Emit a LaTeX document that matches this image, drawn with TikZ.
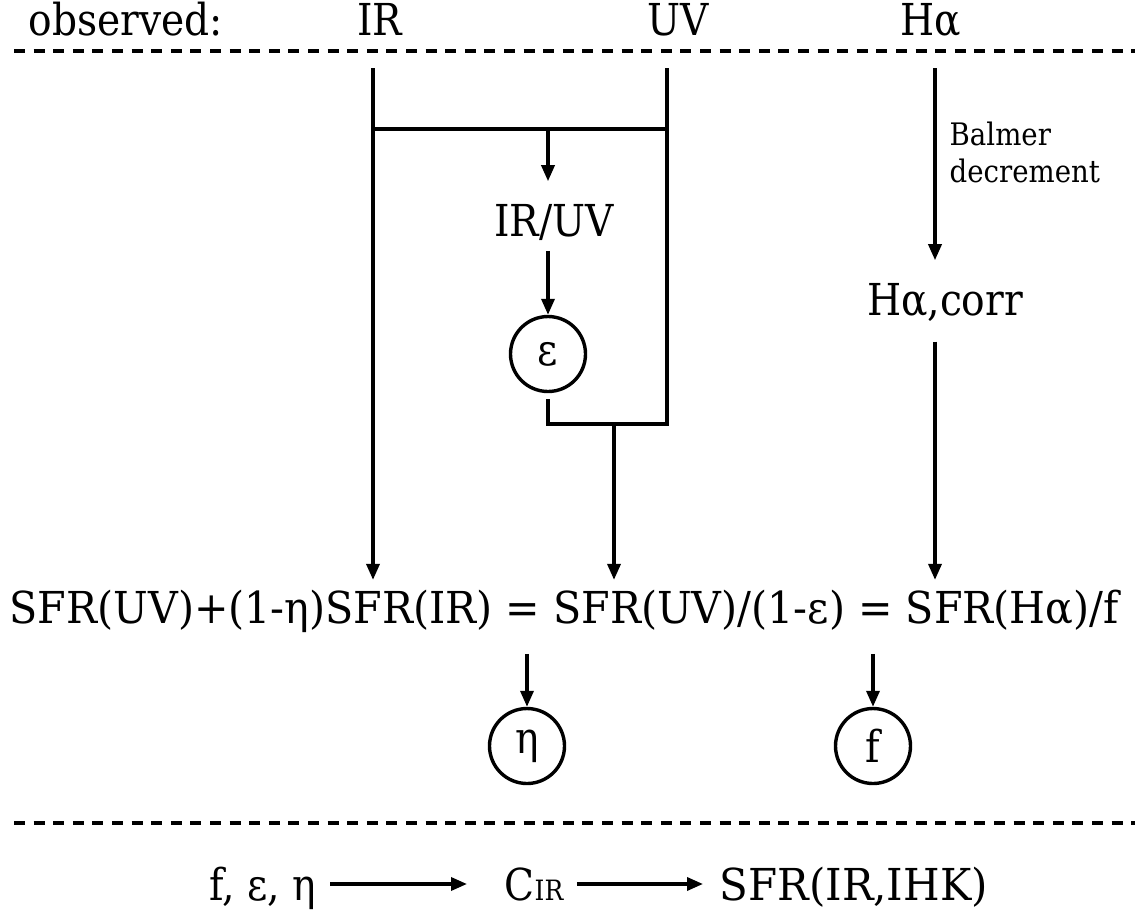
\documentclass[tikz,border=0pt]{standalone}
\usepackage{fontspec}
\setmainfont{DejaVu Serif}[FakeStretch=0.89]
\usetikzlibrary{arrows.meta,positioning}

\begin{document}
\begin{tikzpicture}[x=0.5pt, y=-0.5pt, line width=1.7pt,
    every node/.style={inner sep=0pt, font=\fontsize{22}{26}\selectfont},
    flow/.style={-{Triangle[length=8pt, width=6.5pt]}},
    divider/.style={dash pattern=on 5.5pt off 4.3pt},
    param/.style={circle, draw, minimum size=37.5pt}]
  \useasboundingbox (0,0) rectangle (1135,917);

  % observed quantities
  \node[anchor=base west] (obs) at (27,35) {observed:};
  \node[anchor=base] (ir) at (380,35) {IR};
  \node[anchor=base] (uv) at (678,35) {UV};
  \node[anchor=base] (ha) at (931,35) {Hα};
  \draw[divider] (14,51) -- (1135,51);

  \coordinate (irtop) at (373,68);
  \coordinate (uvtop) at (667,68);
  \coordinate (hatop) at (935,68);
  \coordinate (join) at (548,129);
  \coordinate (merge) at (614,424);

  % intermediate quantities
  \node[anchor=base] (ratio) at (554,236) {IR/UV};
  \node[param] (eps) at (548,354) {ε};
  \node[anchor=base] (hacorr) at (945,315) {Hα,corr};
  \node[anchor=north west, align=left, font=\fontsize{15.5}{18.5}\selectfont] (balmer) at (948,120) {Balmer\\decrement};

  % the balance
  \node[anchor=base west] (sfr) at (8,623) {\resizebox{554.5pt}{\height}{SFR(UV)+(1-η)SFR(IR) = SFR(UV)/(1-ε) = SFR(Hα)/f}};
  \node[param] (eta) at (527,746) {η};
  \node[param] (fpar) at (873,746) {f};

  % IR/UV branch
  \draw (irtop |- join) -- (uvtop |- join);
  \draw[flow, shorten >=10.5pt] (join) -- (join |- ratio.north);
  \draw[flow, shorten <=4.5pt] (eps |- ratio.south) -- (eps);
  \draw[shorten <=3pt] (eps.south) |- (merge) -| (uvtop);
  \draw[flow, shorten >=4pt] (merge) -- (merge |- sfr.north);
  \draw[flow, shorten >=4pt] (irtop) -- (irtop |- sfr.north);

  % Halpha branch
  \draw[flow, shorten >=10.5pt] (hatop) -- (hatop |- hacorr.north);
  \draw[flow, shorten <=9.5pt, shorten >=4pt] (hatop |- hacorr.south) -- (hatop |- sfr.north);

  % solved parameters
  \draw[flow, shorten <=10pt] (eta |- sfr.south) -- (eta);
  \draw[flow, shorten <=10pt] (fpar |- sfr.south) -- (fpar);

  \draw[divider] (14,823) -- (1135,823);

  % calibration
  \node[anchor=base west] (fee) at (208,900) {f, ε, η};
  \node[anchor=base west] (cir) at (503,900) {C{\fontsize{14}{14}\selectfont IR}};
  \node[anchor=base west] (sfrih) at (718,900) {\resizebox{134pt}{\height}{SFR(IR,IHK)}};
  \draw[flow, shorten <=6pt, shorten >=18pt] (fee.east |- cir) -- (cir.west);
  \draw[flow, shorten <=6pt, shorten >=7.5pt] (cir.east) -- (cir.east -| sfrih.west);
\end{tikzpicture}
\end{document}
